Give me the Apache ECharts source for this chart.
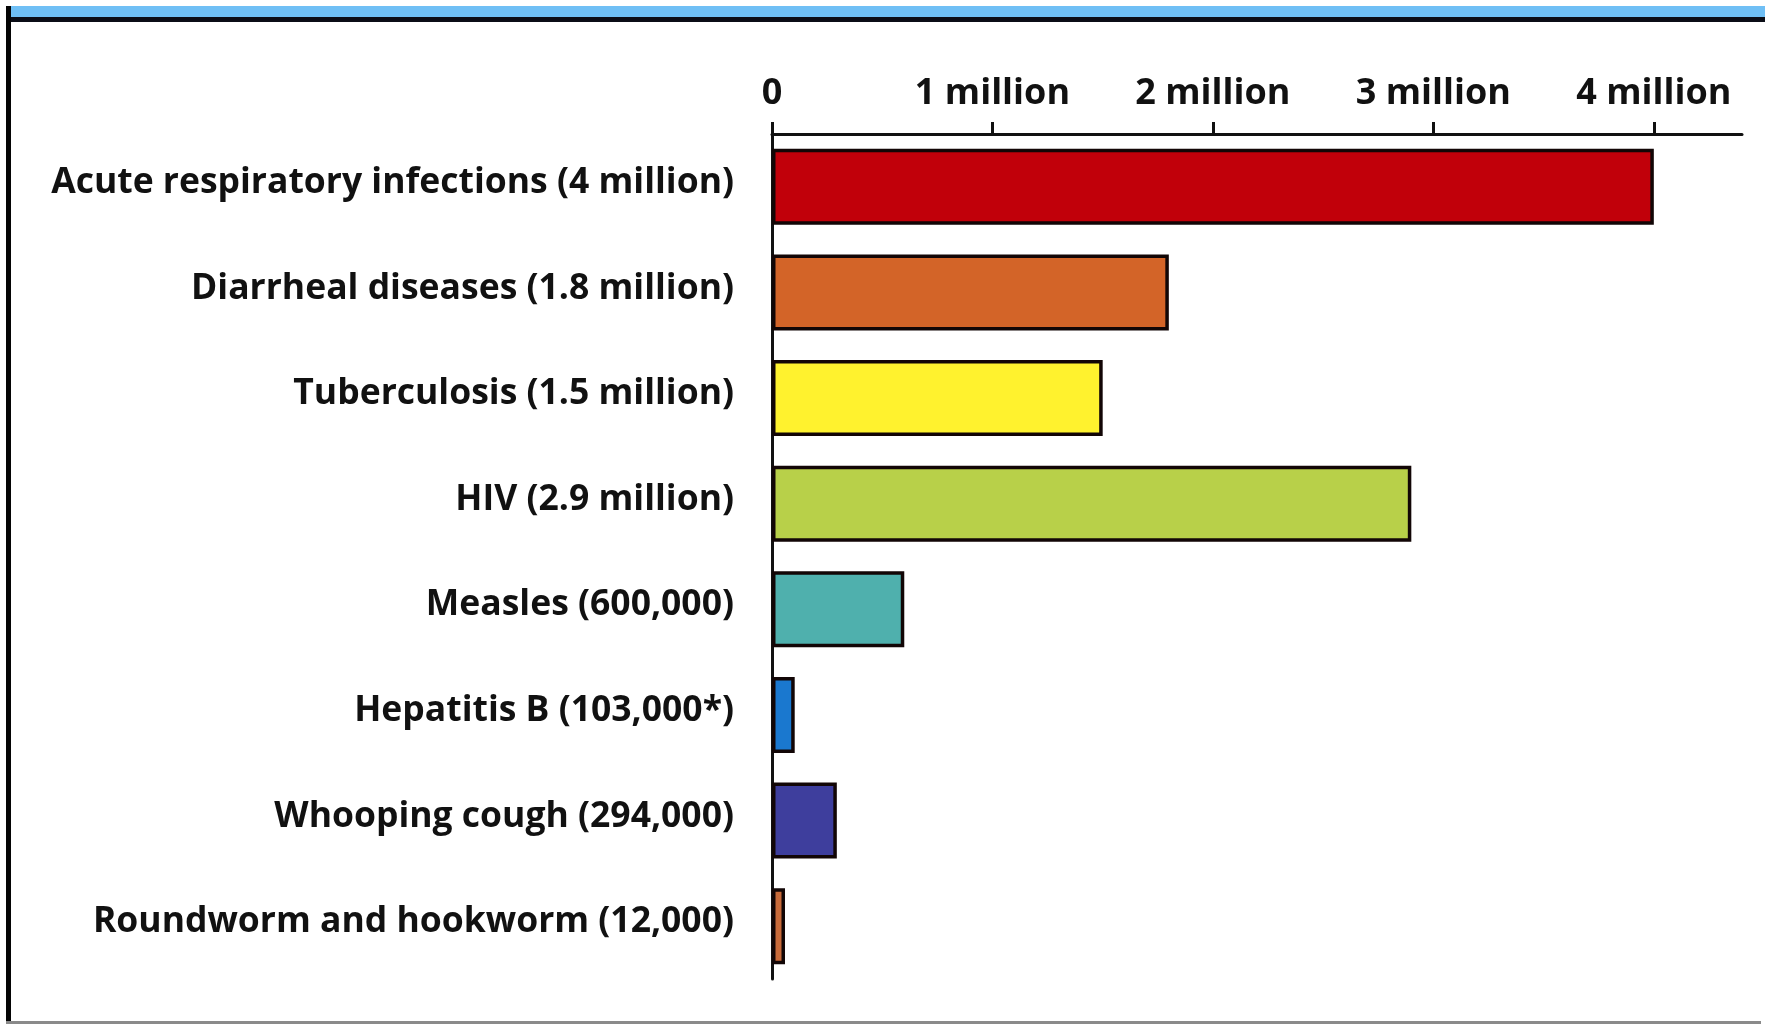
<!DOCTYPE html>
<html>
<head>
<meta charset="utf-8">
<title>Deaths by infectious disease</title>
<script src="https://cdn.jsdelivr.net/npm/echarts@6/dist/echarts.min.js"></script>
<style>
  html, body { margin: 0; padding: 0; background: #ffffff; }
  #chart { position: absolute; left: 0; top: 0; width: 1765px; height: 1024px; }
  .deco { position: absolute; z-index: 2; }
  #band  { left: 6px; right: 0; top: 6px; height: 11px; background: #6fbff5; }
  #rule  { left: 6px; right: 0; top: 17px; height: 5px; background: #0b0d16; }
  #edgeL { left: 6px; width: 5px; top: 6px; bottom: 0; background: #050505; }
  #edgeB { left: 6px; right: 4px; bottom: 0; height: 3px; background: #8a8a8a; }
</style>
</head>
<body>
<div id="chart"></div>
<div class="deco" id="band"></div>
<div class="deco" id="rule"></div>
<div class="deco" id="edgeL"></div>
<div class="deco" id="edgeB"></div>
<script>
// Annual deaths per disease
const diseases = [
  'Acute respiratory infections (4 million)',
  'Diarrheal diseases (1.8 million)',
  'Tuberculosis (1.5 million)',
  'HIV (2.9 million)',
  'Measles (600,000)',
  'Hepatitis B (103,000*)',
  'Whooping cough (294,000)',
  'Roundworm and hookworm (12,000)'
];
const deaths = [4000000, 1800000, 1500000, 2900000, 600000, 103000, 294000, 12000];

// Axis ticks and their labels
const tickValues = [0, 1000000, 2000000, 3000000, 4000000];
const tickLabels = ['0', '1 million', '2 million', '3 million', '4 million'];
const axisMax = 4400000;

// Bar fill colours, one per disease
const barColors = ['#c1000a', '#d36428', '#fff22e', '#b8d049', '#4fb0ad', '#1a78cf', '#3e3e9d', '#c86a3a'];

const FONT = '"Open Sans", "Noto Sans", sans-serif';
const chart = echarts.init(document.getElementById('chart'), null, { renderer: 'canvas' });

chart.setOption({
  animation: false,
  backgroundColor: '#ffffff',
  grid: { left: 772, right: 23, top: 134, bottom: 45, containLabel: false },
  xAxis: {
    type: 'value',
    position: 'top',
    min: 0,
    max: axisMax,
    interval: 1000000,
    splitLine: { show: false },
    axisLine: { show: true, lineStyle: { color: '#111', width: 3 } },
    axisTick: {
      show: true, inside: false, length: 12,
      customValues: tickValues,
      lineStyle: { color: '#111', width: 3 }
    },
    axisLabel: {
      customValues: tickValues,
      margin: 22,
      color: '#111',
      fontFamily: FONT,
      fontWeight: 'bold',
      fontSize: 36,
      formatter: v => tickLabels[tickValues.indexOf(v)] ?? ''
    }
  },
  yAxis: {
    type: 'category',
    inverse: true,
    data: diseases,
    axisLine: { show: true, lineStyle: { color: '#111', width: 3 } },
    axisTick: { show: false },
    axisLabel: {
      margin: 38,
      formatter: name => '{n|' + name + '}',
      rich: {
        // lift the names a little above the bar centre line
        n: {
          color: '#111',
          fontFamily: FONT,
          fontWeight: 'bold',
          fontSize: 35.5,
          padding: [0, 0, 8, 0]
        }
      }
    }
  },
  series: [{
    type: 'bar',
    data: deaths.map((v, i) => ({ value: v, itemStyle: { color: barColors[i] } })),
    barCategoryGap: '28%',
    barMinHeight: 13,
    itemStyle: { borderColor: '#120606', borderWidth: 3.5 },
    z: 1
  }]
});
</script>
</body>
</html>
